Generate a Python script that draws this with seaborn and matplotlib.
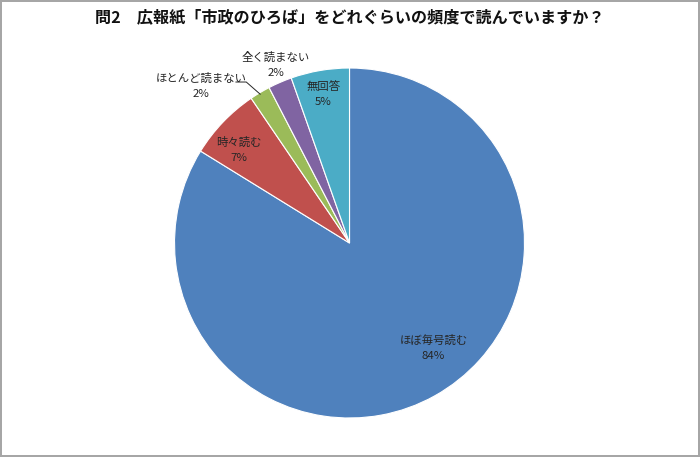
import matplotlib.pyplot as plt
import seaborn as sns

labels = ["ほぼ毎号読む", "時々読む", "ほとんど読まない", "全く読まない", "無回答"]
values = [83.8, 6.7, 1.9, 2.2, 5.4]
colors = ["#4F81BD", "#C0504D", "#9BBB59", "#8064A2", "#4BACC6"]
title = "問2　広報紙「市政のひろば」をどれぐらいの頻度で読んでいますか？"

sns.set_theme(style="white")
plt.rcParams["font.family"] = ["Noto Sans CJK JP", "DejaVu Sans"]

fig = plt.figure(figsize=(7, 4.57), dpi=100)
fig.patch.set_edgecolor("#A6A6A6")
fig.patch.set_linewidth(1.5)
ax = fig.add_axes([0.1993, 0.00875, 0.6, 0.919])

ax.pie(
    values,
    colors=colors,
    startangle=90,
    counterclock=False,
    wedgeprops=dict(edgecolor="white", linewidth=0.8),
)
ax.set_xlim(-1.2, 1.2)
ax.set_ylim(-1.2, 1.2)
ax.set_aspect("equal")

# label positions in pie units (radius = 1)
label_pos = [(0.48, -0.60), (-0.63, 0.53), (-0.85, 0.90), (-0.42, 1.02), (-0.15, 0.85)]
for name, val, (x, y) in zip(labels, values, label_pos):
    ax.text(x, y, f"{name}\n{round(val)}%", ha="center", va="center",
            fontsize=8.2, color="#262626", linespacing=1.65)

# leader line for ほとんど読まない
ax.plot([-0.65, -0.59, -0.51], [0.92, 0.92, 0.85], color="#262626", lw=0.7)

fig.text(0.5, 0.962, title, ha="center", va="center",
         fontsize=11.6, fontweight="bold", color="#111111")

plt.savefig("out.png", dpi=100)
